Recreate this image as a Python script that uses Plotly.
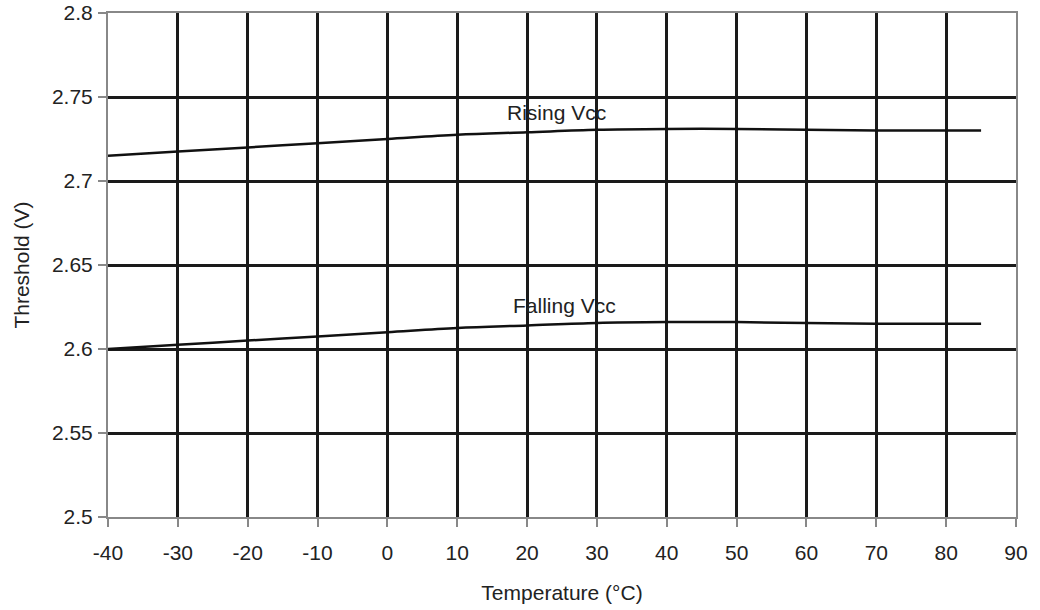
import plotly.graph_objects as go

temp = [-40, -30, -20, -10, 0, 10, 20, 30, 40, 50, 60, 70, 85]
rising = [2.715, 2.7175, 2.720, 2.7225, 2.725, 2.7275, 2.729, 2.7305, 2.731, 2.731, 2.7305, 2.730, 2.730]
falling = [2.600, 2.6025, 2.605, 2.6075, 2.610, 2.6125, 2.614, 2.6155, 2.616, 2.616, 2.6155, 2.615, 2.615]

x_ticks = list(range(-40, 91, 10))
x_tick_text = [str(v) for v in x_ticks]
y_ticks = [2.5, 2.55, 2.6, 2.65, 2.7, 2.75, 2.8]
y_tick_text = ["2.5", "2.55", "2.6", "2.65", "2.7", "2.75", "2.8"]

labels = [("Rising Vcc", 24.2, 2.741), ("Falling Vcc", 25.4, 2.626)]

FONT = "Liberation Sans, Arial, sans-serif"

fig = go.Figure()
fig.add_trace(go.Scatter(x=temp, y=rising, mode="lines", line=dict(color="#111111", width=2.5, shape="spline"), showlegend=False))
fig.add_trace(go.Scatter(x=temp, y=falling, mode="lines", line=dict(color="#111111", width=2.5, shape="spline"), showlegend=False))

for text, x, y in labels:
    fig.add_annotation(x=x, y=y, text=text, showarrow=False, font=dict(size=21, color="#222222", family=FONT))

fig.update_layout(
    width=1040, height=610,
    margin=dict(l=108, r=24, t=13, b=93),
    paper_bgcolor="white", plot_bgcolor="white",
    font=dict(family=FONT, size=21, color="#222222"),
    xaxis=dict(range=[-40, 90], tickvals=x_ticks, ticktext=x_tick_text, ticks="outside", ticklen=8, tickcolor="#888888",
               tickwidth=1.5, ticklabelstandoff=8, automargin=False,
               showgrid=True, gridcolor="#1a1a1a", gridwidth=2.5, zeroline=False,
               showline=True, linecolor="#888888", linewidth=2, mirror=True,
               title=dict(text="Temperature (°C)", font=dict(size=21), standoff=22)),
    yaxis=dict(range=[2.5, 2.8], tickvals=y_ticks, ticktext=y_tick_text, ticks="outside", ticklen=8, tickcolor="#888888",
               tickwidth=1.5, ticklabelstandoff=1, automargin=False,
               showgrid=True, gridcolor="#1a1a1a", gridwidth=2.5, zeroline=False,
               showline=True, linecolor="#888888", linewidth=2, mirror=True,
               title=dict(text="Threshold (V)", font=dict(size=21), standoff=17)),
)

fig.write_html("out.html", config={"displayModeBar": False}, post_script="document.body.style.margin='0';")
